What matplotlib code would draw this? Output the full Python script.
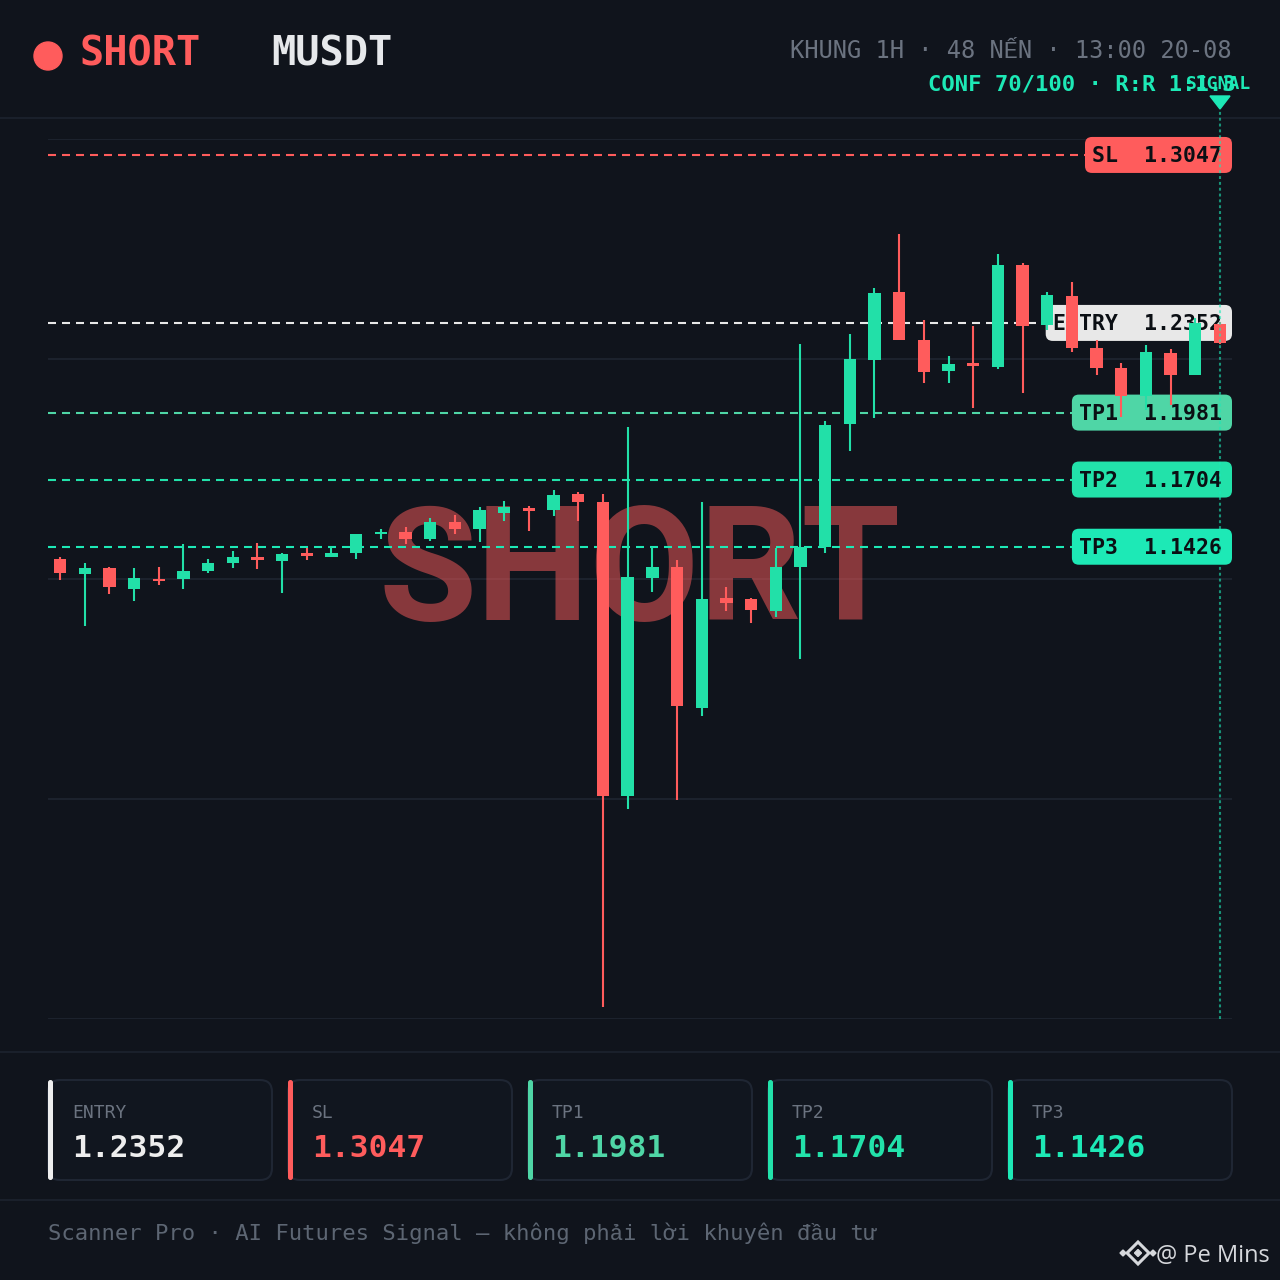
import matplotlib
matplotlib.use("Agg")
import matplotlib.pyplot as plt
from matplotlib.patches import FancyBboxPatch, Polygon, Circle
from matplotlib.transforms import IdentityTransform
import numpy as np

#candle data, 1H, 48 candles
opens = [1.1374, 1.1312, 1.1340, 1.1253, 1.1293, 1.1293, 1.1327, 1.1358, 1.1383, 1.1369,
         1.1399, 1.1385, 1.1402, 1.1479, 1.1486, 1.1458, 1.1530, 1.1500, 1.1567, 1.1588,
         1.1578, 1.1645, 1.1610, 1.0395, 1.1298, 1.1341, 1.0758, 1.1214, 1.1209, 1.1160,
         1.1344, 1.1426, 1.1933, 1.2199, 1.2479, 1.2282, 1.2153, 1.2185, 1.2171, 1.2592,
         1.2344, 1.2465, 1.2250, 1.2165, 1.2050, 1.2229, 1.2137, 1.2348]
highs = [1.1383, 1.1358, 1.1342, 1.1338, 1.1341, 1.1438, 1.1374, 1.1409, 1.1442, 1.1402,
         1.1420, 1.1431, 1.1478, 1.1500, 1.1509, 1.1546, 1.1558, 1.1591, 1.1616, 1.1595,
         1.1661, 1.1652, 1.1645, 1.1920, 1.1426, 1.1371, 1.1610, 1.1259, 1.1214, 1.1422,
         1.2264, 1.1948, 1.2308, 1.2498, 1.2719, 1.2364, 1.2216, 1.2340, 1.2638, 1.2601,
         1.2479, 1.2523, 1.2282, 1.2188, 1.2261, 1.2243, 1.2371, 1.2356]
lows = [1.1289, 1.1100, 1.1232, 1.1202, 1.1268, 1.1251, 1.1316, 1.1340, 1.1335, 1.1236,
        1.1371, 1.1383, 1.1377, 1.1460, 1.1438, 1.1451, 1.1479, 1.1446, 1.1534, 1.1491,
        1.1553, 1.1534, 0.9522, 1.0342, 1.1240, 1.0378, 1.0726, 1.1162, 1.1112, 1.1134,
        1.0963, 1.1402, 1.1822, 1.1958, 1.2280, 1.2103, 1.2105, 1.2002, 1.2160, 1.2064,
        1.2323, 1.2233, 1.2137, 1.1964, 1.1992, 1.2013, 1.2137, 1.2265]
closes = [1.1316, 1.1340, 1.1259, 1.1296, 1.1283, 1.1326, 1.1358, 1.1385, 1.1371, 1.1396,
          1.1388, 1.1400, 1.1478, 1.1487, 1.1457, 1.1530, 1.1500, 1.1577, 1.1592, 1.1575,
          1.1640, 1.1611, 1.0395, 1.1300, 1.1344, 1.0767, 1.1209, 1.1194, 1.1165, 1.1344,
          1.1426, 1.1930, 1.2202, 1.2477, 1.2282, 1.2151, 1.2182, 1.2174, 1.2592, 1.2340,
          1.2469, 1.2247, 1.2165, 1.2050, 1.2231, 1.2137, 1.2351, 1.2270]

#trade levels
level_names = ['SL', 'ENTRY', 'TP1', 'TP2', 'TP3']
level_values = [1.3047, 1.2352, 1.1981, 1.1704, 1.1426]
level_colors = ['#ff5c5c', '#e8e8e8', '#4fd6a6', '#22e2aa', '#1de9b6']

#cards at the bottom (same levels, other order)
card_names = ['ENTRY', 'SL', 'TP1', 'TP2', 'TP3']
card_values = [1.2352, 1.3047, 1.1981, 1.1704, 1.1426]
card_colors = ['#eeeeee', '#ff5c5c', '#4fd6a6', '#22e2aa', '#1de9b6']

side = 'SHORT'
symbol = 'MUSDT'
info_line = 'KHUNG 1H · 48 NẾN · 13:00 20-08'
conf_line = 'CONF 70/100 · R:R 1:1.3'
footer = 'Scanner Pro · AI Futures Signal — không phải lời khuyên đầu tư'
credit = '@ Pe Mins'

BG = '#10141c'
GREEN = '#22e0a8'
RED = '#ff5c5c'
TEAL = '#1de9b6'
GRAY = '#6b7380'
MONO = ['DejaVu Sans Mono', 'Liberation Mono', 'DejaVu Sans']

fig = plt.figure(figsize=(12.8, 12.8), dpi=100, facecolor=BG)

#background layer in image pixels (y down)
bg = fig.add_axes([0, 0, 1, 1], zorder=-1)
bg.set_xlim(0, 1280)
bg.set_ylim(1280, 0)
bg.axis('off')

#chart area
ax = fig.add_axes([48 / 1280, 261 / 1280, 1184 / 1280, 880 / 1280])
ax.set_facecolor('none')
ymin, ymax = 0.9472, 1.3113
ax.set_xlim(-0.486, 47.486)
ax.set_ylim(ymin, ymax)
ax.axis('off')

#grid
for yv in np.linspace(ymin, ymax, 5):
    ax.axhline(yv, color='#1c222d', lw=1.5, zorder=1)

#watermark
ax.text(0.5, 0.453, side, transform=ax.transAxes, ha='center', va='baseline',
        fontsize=115, fontfamily='Roboto', fontweight='bold', color=RED, alpha=0.5, zorder=2)

#level lines + labels
ident = IdentityTransform()
for name, v, col in zip(level_names, level_values, level_colors):
    ax.axhline(v, color=col, lw=1.5, linestyle=(0, (3.84, 2.88)), zorder=3)
    txt = name + '  ' + '%.4f' % v
    right, yd = ax.transData.transform((47.486, v))
    w = 13.1 * len(txt) + 16
    box = FancyBboxPatch((right - w, yd - 18), w, 36, boxstyle='round,pad=0,rounding_size=7',
                         transform=ident, fc=col, ec='none', zorder=4, clip_on=False)
    ax.add_patch(box)
    ax.text(right - 10, yd - 1, txt, transform=ident, ha='right', va='center',
            fontsize=15.5, fontfamily=MONO, fontweight='bold', color='#0b0f14', zorder=5)

#candles
o = np.array(opens)
h = np.array(highs)
l = np.array(lows)
c = np.array(closes)
x = np.arange(len(o))
cols = np.where(c >= o, GREEN, RED)
ax.vlines(x, l, h, colors=cols, lw=1.5, zorder=6)
ax.bar(x, np.maximum(np.abs(c - o), 0.0009), bottom=np.minimum(o, c), width=0.5,
       color=cols, zorder=7)

#signal marker on last candle
ax.axvline(x[-1], ymin=0, ymax=(1019 - 110) / 880, color=TEAL, alpha=0.6, lw=1.5,
           linestyle=(0, (1.4, 1.4)), clip_on=False, zorder=8)
sx = ax.transData.transform((x[-1], ymin))[0]
bg.add_patch(Polygon([(sx - 10, 96), (sx + 10, 96), (sx, 109)], closed=True, color=TEAL))

#header
bg.add_patch(Circle((48, 56), 14, color=RED))
bg.text(79, 66, side, fontsize=29, fontfamily=MONO, fontweight='bold', color=RED, va='baseline')
bg.text(271, 66, symbol, fontsize=29, fontfamily=MONO, fontweight='bold', color='#e6e8eb', va='baseline')
bg.text(1232, 58, info_line, ha='right', va='baseline', fontsize=17, fontfamily=MONO, color=GRAY)
bg.text(1236, 90, conf_line, ha='right', va='baseline', fontsize=16, fontfamily=MONO,
        fontweight='bold', color=TEAL)
bg.text(sx - 2, 89, 'SIGNAL', ha='center', va='baseline', fontsize=13, fontfamily=MONO,
        fontweight='bold', color=TEAL)

#separators
for yy in [118, 1052, 1200]:
    bg.axhline(yy, color='#1a202b', lw=1.5)

#cards
card_x = [48, 288, 528, 768, 1008]
for x0, name, v, col in zip(card_x, card_names, card_values, card_colors):
    bg.add_patch(FancyBboxPatch((x0, 1080), 224, 100, boxstyle='round,pad=0,rounding_size=12',
                                fc='#11161f', ec='#1f2633', lw=1.5))
    bg.add_patch(FancyBboxPatch((x0, 1080), 5, 100, boxstyle='round,pad=0,rounding_size=2.5',
                                fc=col, ec='none'))
    bg.text(x0 + 24, 1118, name, fontsize=13, fontfamily=MONO, color=GRAY, va='baseline')
    bg.text(x0 + 24, 1157, '%.4f' % v, fontsize=22.5, fontfamily=MONO, fontweight='bold',
            color=col, va='baseline')

#footer
bg.text(48, 1240, footer, fontsize=16, fontfamily=MONO, color='#5d6673', va='baseline')
bg.text(1270, 1262, credit, ha='right', va='baseline', fontsize=17, fontfamily='Open Sans',
        color='#d6d8dc')
lx, ly = 1138, 1253
bg.add_patch(Polygon([(lx - 11, ly), (lx, ly - 11), (lx + 11, ly), (lx, ly + 11)], closed=True,
                     fill=False, ec='#d6d8dc', lw=2.2))
bg.add_patch(Polygon([(lx - 3.5, ly), (lx, ly - 3.5), (lx + 3.5, ly), (lx, ly + 3.5)], closed=True,
                     color='#d6d8dc'))
for dx in [-15, 15]:
    bg.add_patch(Polygon([(lx + dx - 3, ly), (lx + dx, ly - 3), (lx + dx + 3, ly), (lx + dx, ly + 3)],
                         closed=True, color='#d6d8dc'))

fig.savefig('out.png', dpi=100, facecolor=BG)
